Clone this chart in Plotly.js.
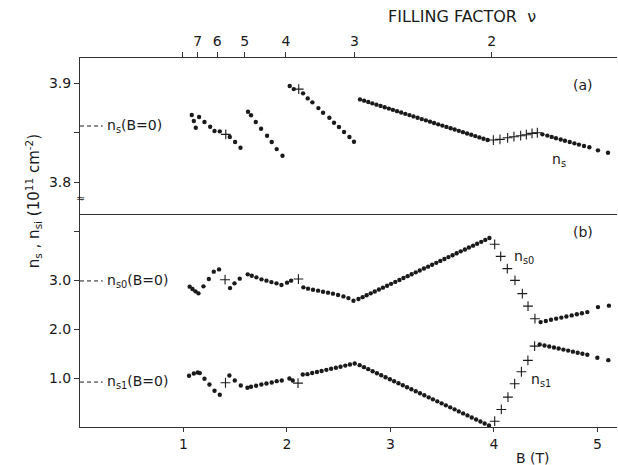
<!DOCTYPE html>
<html><head><meta charset="utf-8">
<script src="https://cdn.plot.ly/plotly-3.0.1.min.js"></script>
<style>html,body{margin:0;padding:0;background:#fff}#plot{width:618px;height:465px}</style>
</head><body><div id="plot"></div>
<script>
// ---------- Panel (a): n_s ----------
const aDotB = [1.080,1.100,1.119,1.151,1.203,1.258,1.300,1.351,1.448,1.499,1.551,
  1.624,1.653,1.699,1.750,1.808,1.853,1.901,1.957,
  2.027,2.066,2.156,2.201,2.246,2.304,2.349,2.410,2.455,2.503,2.552,2.604,2.648,
  2.706,2.746,2.786,2.825,2.865,2.905,2.945,2.985,3.024,3.064,3.104,3.144,3.184,3.223,3.263,3.303,
  3.343,3.383,3.422,3.462,3.502,3.542,3.582,3.621,3.661,3.701,3.741,3.781,3.820,3.860,3.900,3.940,
  4.469,4.517,4.559,4.600,4.646,4.687,4.733,4.778,4.822,4.871,4.923,5.006,5.103];
const aDotNs = [3.8677,3.8616,3.8548,3.8657,3.8606,3.8559,3.8515,3.8512,3.8455,3.8404,3.8346,
  3.8710,3.8674,3.8606,3.8538,3.8468,3.8404,3.8333,3.8266,
  3.8970,3.8939,3.8896,3.8845,3.8805,3.8747,3.8700,3.8650,3.8599,3.8556,3.8505,3.8455,3.8407,
  3.8835,3.8822,3.8808,3.8795,3.8782,3.8769,3.8755,3.8742,3.8729,3.8716,3.8702,3.8689,3.8676,3.8663,3.8649,3.8636,
  3.8623,3.8610,3.8596,3.8583,3.8570,3.8557,3.8543,3.8530,3.8517,3.8504,3.8490,3.8477,3.8464,3.8451,3.8437,3.8424,
  3.8482,3.8469,3.8456,3.8443,3.8430,3.8417,3.8404,3.8391,3.8378,3.8364,3.8351,3.8320,3.8296];
const aCrossB = [1.409,2.114,3.995,4.059,4.133,4.194,4.259,4.314,4.369,4.420];
const aCrossNs = [3.8482,3.8939,3.8424,3.8431,3.8447,3.8458,3.8468,3.8478,3.8492,3.8498];

// ---------- Panel (b): n_s0 ----------
const s0DotB = [1.060,1.087,1.116,1.145,1.193,1.245,1.293,1.344,1.450,1.493,1.544,
  1.621,1.660,1.705,1.754,1.802,1.850,1.899,1.947,2.001,2.040,2.159,
  2.204,2.252,2.301,2.349,2.397,2.445,2.494,2.546,2.594,2.643,
  2.691,2.731,2.770,2.810,2.849,2.889,2.928,2.968,3.007,3.047,3.087,3.126,3.166,3.205,3.245,3.284,3.324,
  3.364,3.403,3.443,3.482,3.522,3.561,3.601,3.640,3.680,3.720,3.759,3.799,3.838,3.878,3.917,3.957,
  4.452,4.502,4.552,4.602,4.652,4.701,4.752,4.802,4.851,4.903,5.006,5.112];
const s0DotN = [2.873,2.824,2.777,2.736,2.879,3.029,3.180,3.227,2.844,2.941,3.037,
  3.125,3.098,3.064,3.023,2.996,2.967,2.941,2.906,2.955,2.996,2.859,
  2.832,2.811,2.791,2.770,2.750,2.730,2.701,2.674,2.639,2.586,
  2.619,2.658,2.697,2.736,2.775,2.814,2.853,2.892,2.931,2.971,3.010,3.049,3.088,3.127,3.166,3.205,3.244,
  3.283,3.322,3.361,3.400,3.439,3.478,3.517,3.556,3.596,3.635,3.674,3.713,3.752,3.791,3.830,3.869,
  2.148,2.171,2.195,2.218,2.240,2.263,2.285,2.307,2.330,2.352,2.455,2.484];
const s0CrossB = [1.402,2.111,4.008,4.066,4.130,4.204,4.275,4.330,4.397];
const s0CrossN = [3.016,3.029,3.740,3.494,3.242,3.002,2.730,2.475,2.217];

// ---------- Panel (b): n_s1 ----------
const s1DotB = [1.054,1.100,1.138,1.158,1.203,1.251,1.300,1.351,
  1.444,1.496,1.554,1.618,1.653,1.702,1.753,1.802,1.853,1.901,1.950,2.024,2.056,2.153,
  2.198,2.244,2.290,2.335,2.381,2.427,2.473,2.518,2.564,2.609,2.655,
  2.703,2.745,2.786,2.828,2.870,2.911,2.953,2.995,3.036,3.078,3.120,3.161,3.203,3.245,3.286,3.328,
  3.370,3.411,3.453,3.495,3.536,3.578,3.620,3.661,3.703,3.745,3.786,3.828,3.870,3.911,3.953,
  4.443,4.489,4.535,4.581,4.626,4.672,4.718,4.764,4.810,4.856,4.903,5.000,5.106];
const s1DotN = [1.049,1.096,1.117,1.103,0.988,0.871,0.742,0.660,
  1.055,0.953,0.850,0.803,0.824,0.844,0.871,0.891,0.912,0.939,0.953,0.994,0.953,1.076,
  1.082,1.104,1.126,1.148,1.170,1.192,1.213,1.235,1.257,1.279,1.301,
  1.266,1.225,1.184,1.142,1.101,1.060,1.019,0.978,0.937,0.896,0.854,0.813,0.772,0.731,0.690,0.649,
  0.607,0.566,0.525,0.484,0.443,0.402,0.361,0.319,0.278,0.237,0.196,0.155,0.114,0.072,0.031,
  1.691,1.670,1.649,1.627,1.606,1.585,1.564,1.543,1.521,1.500,1.479,1.418,1.369];
const s1CrossB = [1.406,2.107,4.008,4.072,4.136,4.201,4.266,4.329,4.394];
const s1CrossN = [0.906,0.898,0.119,0.359,0.611,0.885,1.131,1.363,1.656];

// zero-field reference values
const nsB0 = 3.8566, ns0B0 = 2.99, ns1B0 = 0.92;
const refLineB = [0, 0.22];

// top axis: filling factor
const nuB = 7.96; // B (T) at filling factor 1
const nuTicks = [8,7,6,5,4,3,2];
const nuLabels = ['','7','6','5','4','3','2'];
// bottom axis
const bTicks = [1,2,3,4,5];
const bLabels = ['1','2','3','4','5'];
// left axes
const aTicks = [3.8,3.85,3.9];
const aLabels = ['3.8','','3.9'];
const bYTicks = [1,2,3,4];
const bYLabels = ['1.0','2.0','3.0',''];

const FONT = 'DejaVu Sans, Liberation Sans, sans-serif';
const INK = '#1a1a1a';
const dot = {color: INK, size: 4.4, symbol: 'circle'};
const cross = {color: INK, size: 7, symbol: 'cross-thin', line: {color: INK, width: 1.1}};
const XR = [0, 5.19];

const traces = [
  {x: aDotB, y: aDotNs, xaxis: 'x2', yaxis: 'y2', mode: 'markers', marker: dot},
  {x: aCrossB, y: aCrossNs, xaxis: 'x2', yaxis: 'y2', mode: 'markers', marker: cross},
  {x: refLineB, y: [nsB0, nsB0], xaxis: 'x2', yaxis: 'y2', mode: 'lines', line: {color: INK, width: 1, dash: '4px,3px'}},
  {x: s0DotB, y: s0DotN, xaxis: 'x', yaxis: 'y', mode: 'markers', marker: dot},
  {x: s0CrossB, y: s0CrossN, xaxis: 'x', yaxis: 'y', mode: 'markers', marker: cross},
  {x: s1DotB, y: s1DotN, xaxis: 'x', yaxis: 'y', mode: 'markers', marker: dot},
  {x: s1CrossB, y: s1CrossN, xaxis: 'x', yaxis: 'y', mode: 'markers', marker: cross},
  {x: refLineB, y: [ns0B0, ns0B0], xaxis: 'x', yaxis: 'y', mode: 'lines', line: {color: INK, width: 1, dash: '4px,3px'}},
  {x: refLineB, y: [ns1B0, ns1B0], xaxis: 'x', yaxis: 'y', mode: 'lines', line: {color: INK, width: 1, dash: '4px,3px'}}
];

const axCommon = {showgrid: false, zeroline: false, showline: true, linecolor: '#333', linewidth: 1,
  ticks: 'outside', ticklen: 4, tickwidth: 1, tickcolor: '#333', tickfont: {family: FONT, size: 14, color: INK}};

const ann = (text, x, y, xref, yref, extra) => Object.assign({text, x, y, xref, yref, showarrow: false,
  xanchor: 'center', yanchor: 'middle',
  font: {family: FONT, size: 14, color: INK}}, extra || {});

const layout = {
  width: 618, height: 465,
  margin: {l: 80, r: 1, t: 58, b: 38},
  paper_bgcolor: '#fff', plot_bgcolor: '#fff',
  showlegend: false,
  xaxis: Object.assign({}, axCommon, {anchor: 'y', range: XR, tickvals: bTicks, ticktext: bLabels, mirror: true}),
  xaxis2: Object.assign({}, axCommon, {anchor: 'y2', side: 'top', range: XR,
    tickvals: nuTicks.map(v => nuB / v), ticktext: nuLabels, ticklen: 5}),
  yaxis: Object.assign({}, axCommon, {domain: [0, 0.5745], range: [0, 4.34], tickvals: bYTicks, ticktext: bYLabels, ticklen: 5}),
  yaxis2: Object.assign({}, axCommon, {domain: [0.5745, 1], range: [3.7667, 3.9253], tickvals: aTicks, ticktext: aLabels, ticklen: 5}),
  annotations: [
    ann('FILLING FACTOR  ν', 3.69, 1.112, 'x', 'paper', {font: {family: FONT, size: 16, color: INK}}),
    ann('B (T)', 4.375, -0.084, 'x', 'paper'),
    ann('(a)', 4.86, 3.8982, 'x', 'y2'),
    ann('(b)', 4.86, 4.0, 'x', 'y'),
    ann('n<sub>s</sub>', 4.63, 3.8222, 'x', 'y2'),
    ann('n<sub>s0</sub>', 4.29, 3.49, 'x', 'y'),
    ann('n<sub>s1</sub>', 4.46, 0.97, 'x', 'y'),
    ann('n<sub>s</sub>(B=0)', 0.24, nsB0, 'x', 'y2', {xanchor: 'left'}),
    ann('n<sub>s0</sub>(B=0)', 0.24, ns0B0, 'x', 'y', {xanchor: 'left'}),
    ann('n<sub>s1</sub>(B=0)', 0.24, ns1B0, 'x', 'y', {xanchor: 'left'}),
    ann('≈', 0, 3.783, 'paper', 'y2', {font: {family: FONT, size: 11, color: INK}}),
    ann('n<sub>s</sub> , n<sub>si</sub> (10<sup>11</sup> cm<sup>-2</sup>)', -0.0875, 0.612, 'paper', 'paper', {textangle: -90, font: {family: FONT, size: 15, color: INK}})
  ]
};

Plotly.newPlot('plot', traces, layout, {displayModeBar: false, staticPlot: true});
</script>
</body></html>
